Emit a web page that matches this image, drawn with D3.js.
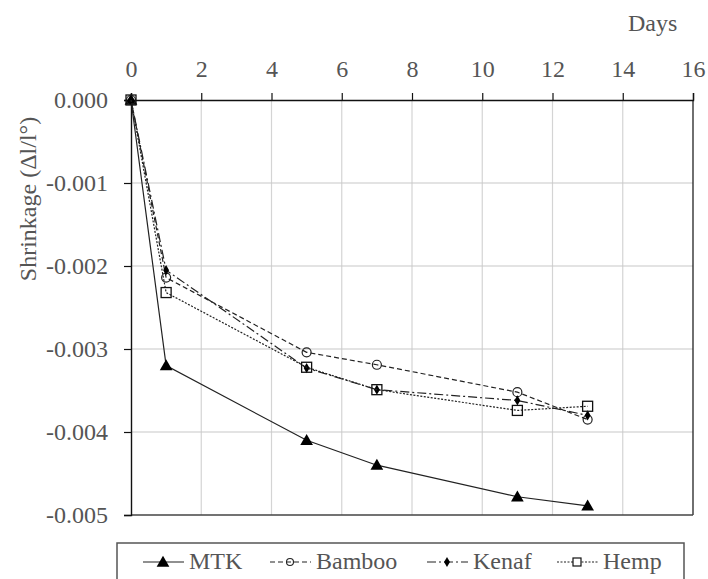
<!DOCTYPE html>
<html><head><meta charset="utf-8">
<script src="https://cdn.jsdelivr.net/npm/d3@7"></script>
<style>
html,body{margin:0;padding:0;background:#fff;}
svg text{font-family:"Liberation Serif","Tinos","Times New Roman","Noto Serif","DejaVu Serif",serif !important;fill:#555;}
</style></head>
<body><svg id="c" width="708" height="579"></svg>
<script>
const days = [0, 1, 5, 7, 11, 13];
const mtk = [0, -0.0032, -0.0041, -0.0044, -0.00478, -0.00489];
const bamboo = [0, -0.00214, -0.00304, -0.00319, -0.00352, -0.00385];
const kenaf = [0, -0.00205, -0.00323, -0.00349, -0.00362, -0.0038];
const hemp = [0, -0.00232, -0.00322, -0.00349, -0.00374, -0.00369];
const seriesNames = ["MTK", "Bamboo", "Kenaf", "Hemp"];
const xTicks = [0, 2, 4, 6, 8, 10, 12, 14, 16];
const yTicks = [0, -0.001, -0.002, -0.003, -0.004, -0.005];

const FONT = '"Liberation Serif","Tinos","Times New Roman","Noto Serif","DejaVu Serif",serif';
const svg = d3.select("#c");
const x = d3.scaleLinear().domain([0, 16]).range([131, 693]);
const y = d3.scaleLinear().domain([0, -0.005]).range([100, 515]);

// grid
svg.append("g").selectAll("line").data(xTicks.slice(1, -1)).join("line")
  .attr("x1", d => x(d)).attr("x2", d => x(d)).attr("y1", 100).attr("y2", 515)
  .attr("stroke", "#d4d4d4").attr("stroke-width", 1.2);
svg.append("g").selectAll("line").data(yTicks.slice(1, -1)).join("line")
  .attr("x1", 131).attr("x2", 693).attr("y1", d => y(d)).attr("y2", d => y(d))
  .attr("stroke", "#c8c8c8").attr("stroke-width", 1.2);

// frame
svg.append("line").attr("x1",693).attr("x2",693).attr("y1",100).attr("y2",515).attr("stroke","#222").attr("stroke-width",1.3);
svg.append("line").attr("x1",131).attr("x2",693).attr("y1",515).attr("y2",515).attr("stroke","#444").attr("stroke-width",1.3);

// axes
const xAxis = svg.append("g").attr("transform", "translate(0,100)")
  .call(d3.axisTop(x).tickValues(xTicks).tickFormat(d3.format("d")).tickSizeOuter(0).tickSize(7).tickPadding(16));
const yAxis = svg.append("g").attr("transform", "translate(131,0)")
  .call(d3.axisLeft(y).tickValues(yTicks).tickFormat(d3.format(".3f")).tickSizeOuter(0).tickSize(7).tickPadding(16));
[xAxis, yAxis].forEach(a => {
  a.attr("font-family", FONT);
  a.select(".domain").attr("stroke", "#111").attr("stroke-width", 1.4);
  a.selectAll(".tick line").attr("stroke", "#111").attr("stroke-width", 1.2);
  a.selectAll(".tick text").attr("font-size", 24).attr("fill", "#555");
});
yAxis.selectAll(".tick text").text(d => d3.format(".3f")(d).replace("−", "-"));

svg.append("text").attr("x", 628).attr("y", 31).attr("font-size", 24).text("Days");
svg.append("text").attr("transform", "translate(36,199) rotate(-90)")
  .attr("text-anchor", "middle").attr("font-size", 24).text("Shrinkage (Δl/l°)");

// series
const styles = {
  MTK: {vals: mtk, dash: null, marker: "tri"},
  Bamboo: {vals: bamboo, dash: "5,3", marker: "circ"},
  Kenaf: {vals: kenaf, dash: "9,3,2,3", marker: "dia"},
  Hemp: {vals: hemp, dash: "2,1.5", marker: "sq"}
};
const line = d3.line().x(d => x(d[0])).y(d => y(d[1]));

function marker(g, type, cx, cy) {
  if (type === "tri") g.append("path").attr("d", d3.symbol(d3.symbolTriangle, 70)()).attr("transform", `translate(${cx},${cy+1})`).attr("fill", "#000");
  if (type === "circ") g.append("circle").attr("cx", cx).attr("cy", cy).attr("r", 4.5).attr("fill", "none").attr("stroke", "#222").attr("stroke-width", 1.2);
  if (type === "dia") g.append("path").attr("d", d3.symbol(d3.symbolDiamond, 30)()).attr("transform", `translate(${cx},${cy})`).attr("fill", "#000");
  if (type === "sq") g.append("rect").attr("x", cx-5).attr("y", cy-5).attr("width", 10).attr("height", 10).attr("fill", "none").attr("stroke", "#111").attr("stroke-width", 1.3);
}

seriesNames.forEach(name => {
  const s = styles[name];
  const pts = days.map((d, i) => [d, s.vals[i]]);
  svg.append("path").datum(pts).attr("d", line).attr("fill", "none")
    .attr("stroke", "#222").attr("stroke-width", 1.2).attr("stroke-dasharray", s.dash);
  const g = svg.append("g");
  pts.forEach(p => marker(g, s.marker, x(p[0]), y(p[1])));
});

// legend
svg.append("rect").attr("x", 117).attr("y", 543).attr("width", 567).attr("height", 60)
  .attr("fill", "#fff").attr("stroke", "#555").attr("stroke-width", 1.5);
const legX = [143, 270, 427, 557];
seriesNames.forEach((name, i) => {
  const s = styles[name];
  const lx = legX[i], ly = 562;
  svg.append("line").attr("x1", lx).attr("x2", lx + 41).attr("y1", ly).attr("y2", ly)
    .attr("stroke", "#222").attr("stroke-width", 1.2).attr("stroke-dasharray", s.dash);
  const g = svg.append("g");
  if (s.marker === "circ") g.append("circle").attr("cx", lx+20).attr("cy", ly).attr("r", 3.5).attr("fill", "none").attr("stroke", "#222").attr("stroke-width", 1.1);
  else if (s.marker === "sq") g.append("rect").attr("x", lx+16).attr("y", ly-4).attr("width", 8).attr("height", 8).attr("fill", "#fff").attr("stroke", "#111").attr("stroke-width", 1.2);
  else marker(g, s.marker, lx + 20, ly);
  svg.append("text").attr("x", lx + 46).attr("y", 569).attr("font-size", 24).text(name);
});
</script></body></html>
